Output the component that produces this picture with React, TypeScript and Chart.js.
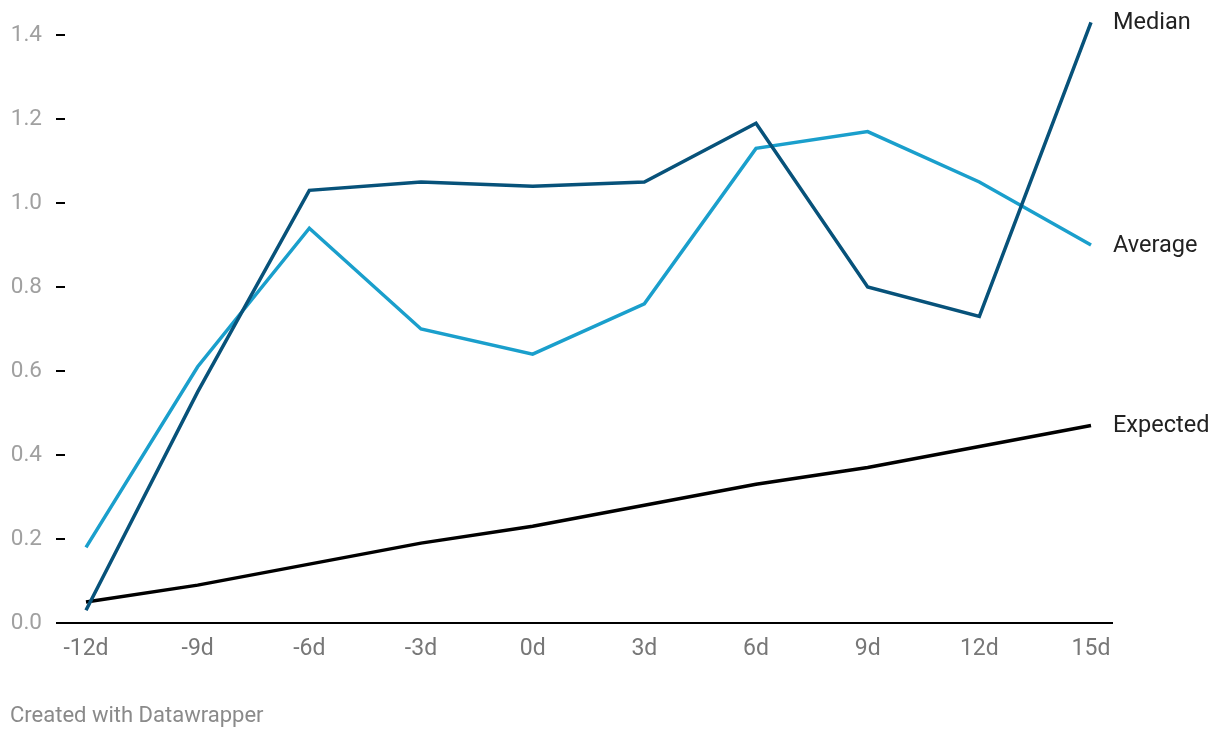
import React, { useEffect, useRef } from "react";
import { Chart, registerables } from "chart.js";

Chart.register(...registerables);

const days = [-12, -9, -6, -3, 0, 3, 6, 9, 12, 15];
const medianValues = [0.03, 0.55, 1.03, 1.05, 1.04, 1.05, 1.19, 0.8, 0.73, 1.43];
const averageValues = [0.18, 0.61, 0.94, 0.7, 0.64, 0.76, 1.13, 1.17, 1.05, 0.9];
const expectedValues = [0.05, 0.09, 0.14, 0.19, 0.23, 0.28, 0.33, 0.37, 0.42, 0.47];
const seriesNames = ["Median", "Average", "Expected"];
const yTicks = [0, 0.2, 0.4, 0.6, 0.8, 1.0, 1.2, 1.4];

const FONT = "Roboto, 'Noto Sans', sans-serif";

const endLabels = {
  id: "endLabels",
  afterDatasetsDraw(chart: any) {
    const ctx = chart.ctx;
    ctx.save();
    ctx.font = `23.5px ${FONT}`;
    ctx.fillStyle = "#222222";
    ctx.textBaseline = "middle";
    ctx.textAlign = "left";
    chart.data.datasets.forEach((ds: any, i: number) => {
      const meta = chart.getDatasetMeta(i);
      const pt = meta.data[meta.data.length - 1];
      ctx.fillText(ds.label, pt.x + 22, pt.y + 1);
    });
    ctx.restore();
  },
};

export default function App() {
  const ref = useRef<HTMLCanvasElement>(null);
  useEffect(() => {
    document.body.style.margin = "0";
    const mk = (vals: number[]) => vals.map((v, i) => ({ x: days[i], y: v }));
    const chart = new Chart(ref.current!, {
      type: "line",
      data: {
        datasets: [
          { label: seriesNames[0], data: mk(medianValues), borderColor: "#07527a", borderWidth: 3.5, pointRadius: 0, clip: false as any, tension: 0 },
          { label: seriesNames[1], data: mk(averageValues), borderColor: "#1a9fcc", borderWidth: 3.5, pointRadius: 0, clip: false as any, tension: 0 },
          { label: seriesNames[2], data: mk(expectedValues), borderColor: "#000000", borderWidth: 3.5, pointRadius: 0, clip: false as any, tension: 0 },
        ],
      },
      options: {
        animation: false,
        responsive: false,
        devicePixelRatio: 1,
        layout: { padding: { top: 35, right: 108, bottom: 61.5, left: 0 } },
        plugins: { legend: { display: false }, tooltip: { enabled: false } },
        scales: {
          x: {
            type: "linear",
            min: -12.564,
            max: 15.564,
            afterBuildTicks: (s: any) => { s.ticks = days.map((d) => ({ value: d })); },
            ticks: {
              callback: (v: any) => `${v}d`,
              color: "#777777",
              font: { family: FONT, size: 23 },
              padding: 13,
              maxRotation: 0,
              autoSkip: false,
            },
            grid: { display: false, drawTicks: false },
            border: { display: true, color: "#000000", width: 2 },
          },
          y: {
            min: 0,
            max: 1.4,
            afterBuildTicks: (s: any) => { s.ticks = yTicks.map((v) => ({ value: v })); },
            afterFit: (s: any) => { s.width = 65; },
            ticks: {
              callback: (v: any) => Number(v).toFixed(1),
              color: "#a0a0a0",
              font: { family: FONT, size: 22.5 },
              padding: 14,
            },
            grid: { drawOnChartArea: false, drawTicks: true, tickLength: 9, color: "#000000", lineWidth: 2 },
            border: { display: false },
          },
        },
      },
      plugins: [endLabels],
    });
    return () => chart.destroy();
  }, []);
  return (
    <div style={{ position: "relative", width: 1220, height: 738, background: "#fff" }}>
      <canvas ref={ref} width={1220} height={738} style={{ display: "block" }} />
      <div style={{ position: "absolute", left: 10, top: 701, fontFamily: FONT, fontSize: 22, lineHeight: "28px", color: "#8a8a8a" }}>
        Created with Datawrapper
      </div>
    </div>
  );
}
